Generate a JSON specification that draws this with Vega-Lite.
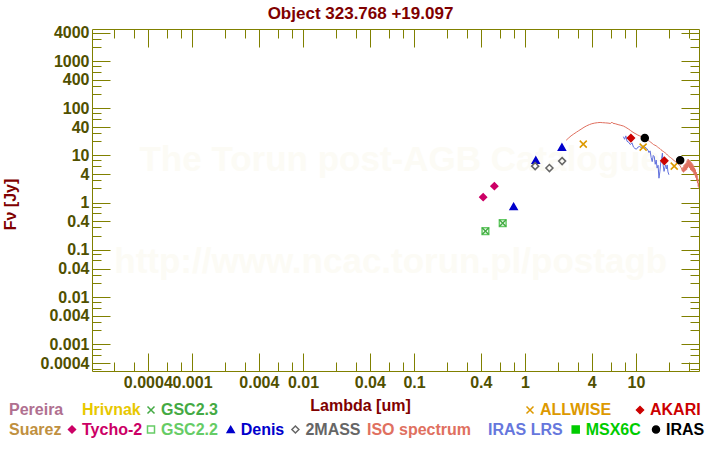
{
  "$schema": "https://vega.github.io/schema/vega-lite/v6.json",
  "width": 607,
  "height": 342,
  "autosize": {"type": "none"},
  "padding": {"left": 92, "top": 29, "right": 21, "bottom": 79},
  "background": "white",
  "config": {"view": {"stroke": null}, "font": "Liberation Sans"},
  "title": {"text": "Object 323.768 +19.097", "font": "Liberation Sans", "fontSize": 17, "fontWeight": "bold", "color": "#800000", "anchor": "middle", "frame": "group", "dx": -35, "offset": -11, "baseline": "alphabetic"},
  "datasets": {
    "phot": [
      {"cat": "GSC2.2", "lam": 0.44, "flux": 0.249},
      {"cat": "GSC2.2", "lam": 0.63, "flux": 0.368},
      {"cat": "GSC2.3", "lam": 0.44, "flux": 0.249},
      {"cat": "GSC2.3", "lam": 0.63, "flux": 0.368},
      {"cat": "Tycho-2", "lam": 0.42, "flux": 1.31},
      {"cat": "Tycho-2", "lam": 0.53, "flux": 2.24},
      {"cat": "Denis", "lam": 0.79, "flux": 0.83},
      {"cat": "Denis", "lam": 1.25, "flux": 7.96},
      {"cat": "Denis", "lam": 2.15, "flux": 15.0},
      {"cat": "2MASS", "lam": 1.235, "flux": 5.94},
      {"cat": "2MASS", "lam": 1.66, "flux": 5.4},
      {"cat": "2MASS", "lam": 2.16, "flux": 7.59},
      {"cat": "ALLWISE", "lam": 3.35, "flux": 17.4},
      {"cat": "ALLWISE", "lam": 11.6, "flux": 15.0},
      {"cat": "ALLWISE", "lam": 22.1, "flux": 5.94},
      {"cat": "AKARI", "lam": 9.0, "flux": 23.3},
      {"cat": "AKARI", "lam": 18.0, "flux": 7.7},
      {"cat": "IRAS", "lam": 12.0, "flux": 23.3},
      {"cat": "IRAS", "lam": 25.0, "flux": 7.96}
    ],
    "spec": [
      {"cat": "ISO spectrum", "lam": 2.35, "flux": 21},
      {"cat": "ISO spectrum", "lam": 2.45, "flux": 23},
      {"cat": "ISO spectrum", "lam": 2.6, "flux": 26},
      {"cat": "ISO spectrum", "lam": 2.75, "flux": 28.5},
      {"cat": "ISO spectrum", "lam": 2.9, "flux": 31},
      {"cat": "ISO spectrum", "lam": 3.05, "flux": 33.5},
      {"cat": "ISO spectrum", "lam": 3.2, "flux": 36},
      {"cat": "ISO spectrum", "lam": 3.4, "flux": 39.5},
      {"cat": "ISO spectrum", "lam": 3.6, "flux": 42.5},
      {"cat": "ISO spectrum", "lam": 3.8, "flux": 45},
      {"cat": "ISO spectrum", "lam": 4.0, "flux": 47},
      {"cat": "ISO spectrum", "lam": 4.25, "flux": 48.5},
      {"cat": "ISO spectrum", "lam": 4.5, "flux": 49.5},
      {"cat": "ISO spectrum", "lam": 4.75, "flux": 50},
      {"cat": "ISO spectrum", "lam": 5.0, "flux": 49.5},
      {"cat": "ISO spectrum", "lam": 5.3, "flux": 49},
      {"cat": "ISO spectrum", "lam": 5.6, "flux": 48.5},
      {"cat": "ISO spectrum", "lam": 5.9, "flux": 47.5},
      {"cat": "ISO spectrum", "lam": 6.05, "flux": 51},
      {"cat": "ISO spectrum", "lam": 6.2, "flux": 48},
      {"cat": "ISO spectrum", "lam": 6.5, "flux": 47},
      {"cat": "ISO spectrum", "lam": 6.9, "flux": 45},
      {"cat": "ISO spectrum", "lam": 7.3, "flux": 43.5},
      {"cat": "ISO spectrum", "lam": 7.7, "flux": 42},
      {"cat": "ISO spectrum", "lam": 8.0, "flux": 40},
      {"cat": "ISO spectrum", "lam": 8.3, "flux": 38},
      {"cat": "ISO spectrum", "lam": 8.6, "flux": 36},
      {"cat": "ISO spectrum", "lam": 8.9, "flux": 34},
      {"cat": "ISO spectrum", "lam": 9.2, "flux": 32},
      {"cat": "ISO spectrum", "lam": 9.6, "flux": 30},
      {"cat": "ISO spectrum", "lam": 10.0, "flux": 28.5},
      {"cat": "ISO spectrum", "lam": 10.4, "flux": 27},
      {"cat": "ISO spectrum", "lam": 10.8, "flux": 26},
      {"cat": "ISO spectrum", "lam": 11.2, "flux": 25},
      {"cat": "ISO spectrum", "lam": 11.6, "flux": 24},
      {"cat": "ISO spectrum", "lam": 12.0, "flux": 23.5},
      {"cat": "ISO spectrum", "lam": 12.4, "flux": 22.5},
      {"cat": "ISO spectrum", "lam": 12.8, "flux": 21},
      {"cat": "ISO spectrum", "lam": 13.2, "flux": 20},
      {"cat": "ISO spectrum", "lam": 13.6, "flux": 19},
      {"cat": "ISO spectrum", "lam": 14.0, "flux": 18},
      {"cat": "ISO spectrum", "lam": 14.4, "flux": 17},
      {"cat": "ISO spectrum", "lam": 14.8, "flux": 16.5},
      {"cat": "ISO spectrum", "lam": 15.2, "flux": 16},
      {"cat": "ISO spectrum", "lam": 15.6, "flux": 15.2},
      {"cat": "ISO spectrum", "lam": 16.0, "flux": 14.5},
      {"cat": "ISO spectrum", "lam": 16.4, "flux": 14},
      {"cat": "ISO spectrum", "lam": 16.8, "flux": 13.2},
      {"cat": "ISO spectrum", "lam": 17.2, "flux": 12.6},
      {"cat": "ISO spectrum", "lam": 17.6, "flux": 12.2},
      {"cat": "ISO spectrum", "lam": 18.0, "flux": 11.8},
      {"cat": "ISO spectrum", "lam": 18.4, "flux": 11.2},
      {"cat": "ISO spectrum", "lam": 18.8, "flux": 10.8},
      {"cat": "ISO spectrum", "lam": 19.2, "flux": 10.2},
      {"cat": "ISO spectrum", "lam": 19.6, "flux": 9.8},
      {"cat": "ISO spectrum", "lam": 20.0, "flux": 9.4},
      {"cat": "ISO spectrum", "lam": 20.5, "flux": 9.0},
      {"cat": "ISO spectrum", "lam": 21.0, "flux": 8.6},
      {"cat": "ISO spectrum", "lam": 21.5, "flux": 8.2},
      {"cat": "ISO spectrum", "lam": 22.0, "flux": 7.8},
      {"cat": "ISO spectrum", "lam": 22.5, "flux": 7.5},
      {"cat": "ISO spectrum", "lam": 23.0, "flux": 7.2},
      {"cat": "ISO spectrum", "lam": 23.5, "flux": 6.9},
      {"cat": "ISO spectrum", "lam": 24.0, "flux": 6.6},
      {"cat": "ISO spectrum", "lam": 24.5, "flux": 6.3},
      {"cat": "ISO spectrum", "lam": 25.0, "flux": 6.0},
      {"cat": "ISO spectrum", "lam": 25.4, "flux": 5.6},
      {"cat": "ISO spectrum", "lam": 25.8, "flux": 5.2},
      {"cat": "ISO spectrum", "lam": 26.2, "flux": 4.6},
      {"cat": "ISO spectrum", "lam": 26.5, "flux": 5.6},
      {"cat": "ISO spectrum", "lam": 26.8, "flux": 4.4},
      {"cat": "ISO spectrum", "lam": 27.1, "flux": 6.2},
      {"cat": "ISO spectrum", "lam": 27.4, "flux": 4.6},
      {"cat": "ISO spectrum", "lam": 27.7, "flux": 6.6},
      {"cat": "ISO spectrum", "lam": 28.0, "flux": 4.8},
      {"cat": "ISO spectrum", "lam": 28.3, "flux": 7.0},
      {"cat": "ISO spectrum", "lam": 28.6, "flux": 5.0},
      {"cat": "ISO spectrum", "lam": 28.9, "flux": 7.8},
      {"cat": "ISO spectrum", "lam": 29.2, "flux": 5.4},
      {"cat": "ISO spectrum", "lam": 29.5, "flux": 8.4},
      {"cat": "ISO spectrum", "lam": 29.8, "flux": 5.8},
      {"cat": "ISO spectrum", "lam": 30.1, "flux": 8.0},
      {"cat": "ISO spectrum", "lam": 30.4, "flux": 5.4},
      {"cat": "ISO spectrum", "lam": 30.7, "flux": 7.6},
      {"cat": "ISO spectrum", "lam": 31.0, "flux": 5.0},
      {"cat": "ISO spectrum", "lam": 31.3, "flux": 7.2},
      {"cat": "ISO spectrum", "lam": 31.6, "flux": 4.8},
      {"cat": "ISO spectrum", "lam": 31.9, "flux": 6.8},
      {"cat": "ISO spectrum", "lam": 32.2, "flux": 4.6},
      {"cat": "ISO spectrum", "lam": 32.5, "flux": 6.4},
      {"cat": "ISO spectrum", "lam": 32.8, "flux": 4.4},
      {"cat": "ISO spectrum", "lam": 33.1, "flux": 6.0},
      {"cat": "ISO spectrum", "lam": 33.4, "flux": 4.0},
      {"cat": "ISO spectrum", "lam": 33.7, "flux": 5.4},
      {"cat": "ISO spectrum", "lam": 34.0, "flux": 3.8},
      {"cat": "ISO spectrum", "lam": 34.3, "flux": 5.0},
      {"cat": "ISO spectrum", "lam": 34.6, "flux": 3.4},
      {"cat": "ISO spectrum", "lam": 34.9, "flux": 4.4},
      {"cat": "ISO spectrum", "lam": 35.2, "flux": 3.0},
      {"cat": "ISO spectrum", "lam": 35.5, "flux": 3.8},
      {"cat": "ISO spectrum", "lam": 35.8, "flux": 2.6},
      {"cat": "ISO spectrum", "lam": 36.1, "flux": 3.2},
      {"cat": "ISO spectrum", "lam": 36.4, "flux": 2.2},
      {"cat": "ISO spectrum", "lam": 36.7, "flux": 2.6},
      {"cat": "ISO spectrum", "lam": 37.0, "flux": 2.0},
      {"cat": "ISO spectrum", "lam": 38.0, "flux": 2.4},
      {"cat": "ISO spectrum", "lam": 40.0, "flux": 2.2},
      {"cat": "IRAS LRS", "lam": 7.7, "flux": 25},
      {"cat": "IRAS LRS", "lam": 7.9, "flux": 22},
      {"cat": "IRAS LRS", "lam": 8.1, "flux": 26},
      {"cat": "IRAS LRS", "lam": 8.3, "flux": 20},
      {"cat": "IRAS LRS", "lam": 8.6, "flux": 19},
      {"cat": "IRAS LRS", "lam": 8.9, "flux": 17},
      {"cat": "IRAS LRS", "lam": 9.2, "flux": 18.5},
      {"cat": "IRAS LRS", "lam": 9.5, "flux": 15},
      {"cat": "IRAS LRS", "lam": 9.8, "flux": 14},
      {"cat": "IRAS LRS", "lam": 10.1, "flux": 13.6},
      {"cat": "IRAS LRS", "lam": 10.4, "flux": 15},
      {"cat": "IRAS LRS", "lam": 10.8, "flux": 15.5},
      {"cat": "IRAS LRS", "lam": 11.2, "flux": 14.5},
      {"cat": "IRAS LRS", "lam": 11.6, "flux": 16},
      {"cat": "IRAS LRS", "lam": 12.0, "flux": 15},
      {"cat": "IRAS LRS", "lam": 12.4, "flux": 14.3},
      {"cat": "IRAS LRS", "lam": 12.8, "flux": 13},
      {"cat": "IRAS LRS", "lam": 13.1, "flux": 11.5},
      {"cat": "IRAS LRS", "lam": 13.4, "flux": 12.5},
      {"cat": "IRAS LRS", "lam": 13.7, "flux": 9},
      {"cat": "IRAS LRS", "lam": 14.0, "flux": 7.4},
      {"cat": "IRAS LRS", "lam": 14.3, "flux": 10},
      {"cat": "IRAS LRS", "lam": 14.6, "flux": 9.5},
      {"cat": "IRAS LRS", "lam": 14.9, "flux": 6.5},
      {"cat": "IRAS LRS", "lam": 15.2, "flux": 8},
      {"cat": "IRAS LRS", "lam": 15.5, "flux": 5.4},
      {"cat": "IRAS LRS", "lam": 15.8, "flux": 6.2},
      {"cat": "IRAS LRS", "lam": 16.1, "flux": 3.3},
      {"cat": "IRAS LRS", "lam": 16.4, "flux": 4.5},
      {"cat": "IRAS LRS", "lam": 16.7, "flux": 6.9},
      {"cat": "IRAS LRS", "lam": 17.0, "flux": 8.5},
      {"cat": "IRAS LRS", "lam": 17.3, "flux": 11.2},
      {"cat": "IRAS LRS", "lam": 17.6, "flux": 6.0},
      {"cat": "IRAS LRS", "lam": 17.9, "flux": 4.6},
      {"cat": "IRAS LRS", "lam": 18.2, "flux": 5.5},
      {"cat": "IRAS LRS", "lam": 18.5, "flux": 6.3},
      {"cat": "IRAS LRS", "lam": 18.8, "flux": 5.2},
      {"cat": "IRAS LRS", "lam": 19.1, "flux": 6.3},
      {"cat": "IRAS LRS", "lam": 19.4, "flux": 4.5},
      {"cat": "IRAS LRS", "lam": 19.8, "flux": 3.9}
    ]
  },
  "resolve": {
    "scale": {"fill": "independent", "stroke": "independent", "shape": "independent"},
    "axis": {"x": "independent", "y": "independent"}
  },
  "layer": [
    {
      "data": {"values": [{}]},
      "mark": {"type": "text", "text": "The Torun post-AGB Catalogue", "font": "Liberation Sans", "fontSize": 35, "fontWeight": "bold", "color": "#fcfbf5", "align": "center", "baseline": "middle"},
      "encoding": {
        "x": {"datum": 0.0743, "type": "quantitative", "scale": {"type": "log", "domain": [0.0001256, 36.95], "nice": false},
          "axis": {"orient": "bottom", "grid": false,
            "values": [0.0002,0.0003,0.0004,0.0006,0.0008,0.001,0.002,0.003,0.004,0.006,0.008,0.01,0.02,0.03,0.04,0.06,0.08,0.1,0.2,0.3,0.4,0.6,0.8,1,2,3,4,6,8,10,20,30],
            "format": "~g",
            "labelExpr": "(abs(log(datum.value)/LN10-round(log(datum.value)/LN10))<0.01||abs(log(datum.value/4)/LN10-round(log(datum.value/4)/LN10))<0.01)?datum.label:''",
            "labelOverlap": false, "labelBound": false, "labelFlush": false,
            "tickSize": {"condition": {"test": "abs(log(datum.value)/LN10-round(log(datum.value)/LN10))<0.01||abs(log(datum.value/4)/LN10-round(log(datum.value/4)/LN10))<0.01", "value": -18}, "value": -9},
            "labelPadding": 21,
            "tickColor": "#808000", "tickWidth": 1, "domainColor": "#808000", "domainWidth": 1,
            "labelFont": "Liberation Sans", "labelFontSize": 16, "labelFontWeight": "bold", "labelColor": "#505000",
            "title": "Lambda [um]", "titleFont": "Liberation Sans", "titleFontSize": 16, "titleFontWeight": "bold", "titleColor": "#800000",
            "titleX": 268, "titleY": 39, "titleAlign": "center", "titleBaseline": "alphabetic", "titleAngle": 0}},
        "y": {"datum": 8.1, "type": "quantitative", "scale": {"type": "log", "domain": [0.000272, 4770], "nice": false},
          "axis": {"orient": "left", "grid": false,
            "values": [0.0003,0.0004,0.0006,0.0008,0.001,0.002,0.003,0.004,0.006,0.008,0.01,0.02,0.03,0.04,0.06,0.08,0.1,0.2,0.3,0.4,0.6,0.8,1,2,3,4,6,8,10,20,30,40,60,80,100,200,300,400,600,800,1000,2000,3000,4000],
            "format": "~g",
            "labelExpr": "(abs(log(datum.value)/LN10-round(log(datum.value)/LN10))<0.01||abs(log(datum.value/4)/LN10-round(log(datum.value/4)/LN10))<0.01)?datum.label:''",
            "labelOverlap": false, "labelBound": false, "labelFlush": false,
            "tickSize": {"condition": {"test": "abs(log(datum.value)/LN10-round(log(datum.value)/LN10))<0.01||abs(log(datum.value/4)/LN10-round(log(datum.value/4)/LN10))<0.01", "value": -18}, "value": -9},
            "labelPadding": 21,
            "tickColor": "#808000", "tickWidth": 1, "domainColor": "#808000", "domainWidth": 1,
            "labelFont": "Liberation Sans", "labelFontSize": 16, "labelFontWeight": "bold", "labelColor": "#505000",
            "title": "Fν [Jy]", "titleFont": "Liberation Sans", "titleFontSize": 16, "titleFontWeight": "bold", "titleColor": "#800000",
            "titleX": -77, "titleY": 175, "titleAlign": "center", "titleBaseline": "alphabetic", "titleAngle": -90}}
      }
    },
    {
      "data": {"values": [{}]},
      "mark": {"type": "text", "text": "http://www.ncac.torun.pl/postagb", "font": "Liberation Sans", "fontSize": 35, "fontWeight": "bold", "color": "#fcfbf5", "align": "center", "baseline": "middle"},
      "encoding": {
        "x": {"datum": 0.0617, "type": "quantitative", "scale": {"type": "log", "domain": [0.0001256, 36.95], "nice": false},
          "axis": {"orient": "top", "grid": false, "labels": false, "title": null,
            "values": [0.0002,0.0003,0.0004,0.0006,0.0008,0.001,0.002,0.003,0.004,0.006,0.008,0.01,0.02,0.03,0.04,0.06,0.08,0.1,0.2,0.3,0.4,0.6,0.8,1,2,3,4,6,8,10,20,30],
            "tickSize": {"condition": {"test": "abs(log(datum.value)/LN10-round(log(datum.value)/LN10))<0.01||abs(log(datum.value/4)/LN10-round(log(datum.value/4)/LN10))<0.01", "value": -18}, "value": -9},
            "tickColor": "#808000", "tickWidth": 1, "domainColor": "#808000", "domainWidth": 1}},
        "y": {"datum": 0.0556, "type": "quantitative", "scale": {"type": "log", "domain": [0.000272, 4770], "nice": false},
          "axis": {"orient": "right", "grid": false, "labels": false, "title": null,
            "values": [0.0003,0.0004,0.0006,0.0008,0.001,0.002,0.003,0.004,0.006,0.008,0.01,0.02,0.03,0.04,0.06,0.08,0.1,0.2,0.3,0.4,0.6,0.8,1,2,3,4,6,8,10,20,30,40,60,80,100,200,300,400,600,800,1000,2000,3000,4000],
            "tickSize": {"condition": {"test": "abs(log(datum.value)/LN10-round(log(datum.value)/LN10))<0.01||abs(log(datum.value/4)/LN10-round(log(datum.value/4)/LN10))<0.01", "value": -18}, "value": -9},
            "tickColor": "#808000", "tickWidth": 1, "domainColor": "#808000", "domainWidth": 1}}
      }
    },
    {
      "data": {"name": "spec"},
      "mark": {"type": "line", "strokeWidth": 1, "clip": true},
      "encoding": {
        "x": {"field": "lam", "type": "quantitative", "scale": {"type": "log", "domain": [0.0001256, 36.95], "nice": false}, "axis": null},
        "y": {"field": "flux", "type": "quantitative", "scale": {"type": "log", "domain": [0.000272, 4770], "nice": false}, "axis": null},
        "stroke": {"field": "cat", "type": "nominal", "scale": {"domain": ["ISO spectrum", "IRAS LRS"], "range": ["#e07060", "#6070dd"]},
          "legend": {"orient": "none", "legendX": 259, "legendY": 392.5, "direction": "horizontal", "columns": 2, "columnPadding": 0, "title": null, "padding": 0,
            "symbolSize": 1, "symbolStrokeWidth": 0, "symbolOpacity": 0, "labelOffset": 0,
            "labelFont": "Liberation Sans", "labelFontSize": 16, "labelFontWeight": "bold",
            "encode": {"labels": {"update": {"fill": {"signal": "datum.value==='ISO spectrum'?'#e07060':'#6677dd'"}}}}}}
      }
    },
    {
      "data": {"name": "phot"},
      "transform": [{"filter": {"field": "cat", "oneOf": ["GSC2.2", "GSC2.3", "Tycho-2"]}}],
      "mark": {"type": "point", "opacity": 1, "size": 45, "strokeWidth": 1.5, "clip": true},
      "encoding": {
        "x": {"field": "lam", "type": "quantitative", "scale": {"type": "log", "domain": [0.0001256, 36.95], "nice": false}, "axis": null},
        "y": {"field": "flux", "type": "quantitative", "scale": {"type": "log", "domain": [0.000272, 4770], "nice": false}, "axis": null},
        "fill": {"field": "cat", "type": "nominal", "scale": {"domain": ["Pereira", "Hrivnak", "GSC2.3", "Suarez", "Tycho-2", "GSC2.2"], "range": ["transparent", "transparent", "transparent", "transparent", "#cc0066", "transparent"]}, "legend": null},
        "stroke": {"field": "cat", "type": "nominal", "scale": {"domain": ["Pereira", "Hrivnak", "GSC2.3", "Suarez", "Tycho-2", "GSC2.2"], "range": ["transparent", "transparent", "#44aa44", "transparent", "#cc0066", "#66cc66"]}, "legend": null},
        "shape": {"field": "cat", "type": "nominal", "scale": {"domain": ["Pereira", "Hrivnak", "GSC2.3", "Suarez", "Tycho-2", "GSC2.2"], "range": ["circle", "circle", "M-1,-1L1,1M-1,1L1,-1", "circle", "diamond", "square"]},
          "legend": {"orient": "none", "legendX": -101, "legendY": 373, "direction": "horizontal", "columns": 3, "columnPadding": 0, "rowPadding": 3.5, "title": null, "padding": 0,
            "symbolSize": 49, "symbolStrokeWidth": 1.5, "labelOffset": 2,
            "labelFont": "Liberation Sans", "labelFontSize": 16, "labelFontWeight": "bold",
            "labelColor": {"expr": "datum.value==='Pereira'?'#b07090':datum.value==='Hrivnak'?'#e8c800':datum.value==='GSC2.3'?'#44aa44':datum.value==='Suarez'?'#c09040':datum.value==='Tycho-2'?'#cc0066':'#66cc66'"},
            "encode": {"symbols": {"update": {"fill": {"signal": "datum.value==='Tycho-2'?'#cc0066':'transparent'"}, "stroke": {"signal": "datum.value==='GSC2.3'?'#44aa44':datum.value==='Tycho-2'?'#cc0066':datum.value==='GSC2.2'?'#66cc66':'transparent'"}}}}}}
      }
    },
    {
      "data": {"name": "phot"},
      "transform": [{"filter": {"field": "cat", "oneOf": ["ALLWISE", "AKARI"]}}],
      "mark": {"type": "point", "opacity": 1, "size": 49, "strokeWidth": 1.5, "clip": true},
      "encoding": {
        "x": {"field": "lam", "type": "quantitative", "scale": {"type": "log", "domain": [0.0001256, 36.95], "nice": false}, "axis": null},
        "y": {"field": "flux", "type": "quantitative", "scale": {"type": "log", "domain": [0.000272, 4770], "nice": false}, "axis": null},
        "fill": {"field": "cat", "type": "nominal", "scale": {"domain": ["ALLWISE", "AKARI"], "range": ["transparent", "#cc0000"]}, "legend": null},
        "stroke": {"field": "cat", "type": "nominal", "scale": {"domain": ["ALLWISE", "AKARI"], "range": ["#dd9900", "#cc0000"]}, "legend": null},
        "shape": {"field": "cat", "type": "nominal", "scale": {"domain": ["ALLWISE", "AKARI"], "range": ["M-1,-1L1,1M-1,1L1,-1", "diamond"]},
          "legend": {"orient": "none", "legendX": 430, "legendY": 373, "direction": "horizontal", "columns": 2, "columnPadding": 20, "title": null, "padding": 0,
            "symbolSize": 49, "symbolStrokeWidth": 1.5, "labelOffset": 2,
            "labelFont": "Liberation Sans", "labelFontSize": 16, "labelFontWeight": "bold",
            "labelColor": {"expr": "datum.value==='AKARI'?'#cc0000':'#dd9900'"},
            "encode": {"symbols": {"update": {"fill": {"signal": "datum.value==='AKARI'?'#cc0000':'transparent'"}, "stroke": {"signal": "datum.value==='AKARI'?'#cc0000':'#dd9900'"}}}}}}
      }
    },
    {
      "data": {"name": "phot"},
      "transform": [{"filter": {"field": "cat", "oneOf": ["Denis", "2MASS"]}}],
      "mark": {"type": "point", "opacity": 1, "size": 49, "strokeWidth": 1.5, "clip": true},
      "encoding": {
        "x": {"field": "lam", "type": "quantitative", "scale": {"type": "log", "domain": [0.0001256, 36.95], "nice": false}, "axis": null},
        "y": {"field": "flux", "type": "quantitative", "scale": {"type": "log", "domain": [0.000272, 4770], "nice": false}, "axis": null},
        "fill": {"field": "cat", "type": "nominal", "scale": {"domain": ["Denis", "2MASS"], "range": ["#0000cc", "transparent"]}, "legend": null},
        "stroke": {"field": "cat", "type": "nominal", "scale": {"domain": ["Denis", "2MASS"], "range": ["#0000cc", "#666666"]}, "legend": null},
        "shape": {"field": "cat", "type": "nominal", "scale": {"domain": ["Denis", "2MASS"], "range": ["triangle-up", "diamond"]},
          "legend": {"orient": "none", "legendX": 130.7, "legendY": 392.5, "direction": "horizontal", "columns": 2, "columnPadding": 2.7, "title": null, "padding": 0,
            "symbolSize": 49, "symbolStrokeWidth": 1.5, "labelOffset": 2,
            "labelFont": "Liberation Sans", "labelFontSize": 16, "labelFontWeight": "bold",
            "labelColor": {"expr": "datum.value==='Denis'?'#0000cc':'#666666'"},
            "encode": {"symbols": {"update": {"fill": {"signal": "datum.value==='Denis'?'#0000cc':'transparent'"}, "stroke": {"signal": "datum.value==='Denis'?'#0000cc':'#666666'"}}}}}}
      }
    },
    {
      "data": {"name": "phot"},
      "transform": [{"filter": {"field": "cat", "oneOf": ["MSX6C", "IRAS"]}}],
      "mark": {"type": "point", "opacity": 1, "size": 49, "strokeWidth": 1.5, "clip": true},
      "encoding": {
        "x": {"field": "lam", "type": "quantitative", "scale": {"type": "log", "domain": [0.0001256, 36.95], "nice": false}, "axis": null},
        "y": {"field": "flux", "type": "quantitative", "scale": {"type": "log", "domain": [0.000272, 4770], "nice": false}, "axis": null},
        "fill": {"field": "cat", "type": "nominal", "scale": {"domain": ["MSX6C", "IRAS"], "range": ["#00cc00", "#000000"]}, "legend": null},
        "stroke": {"field": "cat", "type": "nominal", "scale": {"domain": ["MSX6C", "IRAS"], "range": ["#00cc00", "#000000"]}, "legend": null},
        "shape": {"field": "cat", "type": "nominal", "scale": {"domain": ["MSX6C", "IRAS"], "range": ["square", "circle"]},
          "legend": {"orient": "none", "legendX": 475.7, "legendY": 392.5, "direction": "horizontal", "columns": 2, "columnPadding": 6.3, "title": null, "padding": 0,
            "symbolSize": 49, "symbolStrokeWidth": 1.5, "labelOffset": 2,
            "labelFont": "Liberation Sans", "labelFontSize": 16, "labelFontWeight": "bold",
            "labelColor": {"expr": "datum.value==='MSX6C'?'#00cc00':'#000000'"},
            "encode": {"symbols": {"update": {"fill": {"signal": "datum.value==='MSX6C'?'#00cc00':'#000000'"}, "stroke": {"signal": "datum.value==='MSX6C'?'#00cc00':'#000000'"}}}}}}
      }
    }
  ]
}
